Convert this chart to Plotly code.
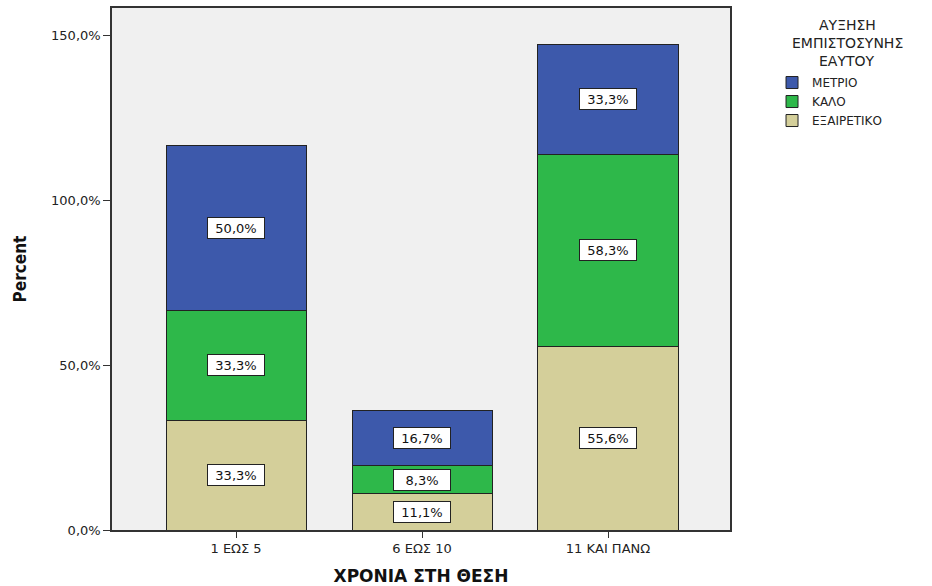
import plotly.graph_objects as go

categories = ["1 ΕΩΣ 5", "6 ΕΩΣ 10", "11 ΚΑΙ ΠΑΝΩ"]
excellent = [33.3, 11.1, 55.6]   # ΕΞΑΙΡΕΤΙΚΟ
good = [33.3, 8.3, 58.3]         # ΚΑΛΟ
moderate = [50.0, 16.7, 33.3]    # ΜΕΤΡΙΟ
series_names = ["ΕΞΑΙΡΕΤΙΚΟ", "ΚΑΛΟ", "ΜΕΤΡΙΟ"]
series_colors = ["#d4cf9a", "#2eb84a", "#3d59ab"]
y_ticks = [0, 50, 100, 150]
legend_title_lines = ["ΑΥΞΗΣΗ", "ΕΜΠΙΣΤΟΣΥΝΗΣ", "ΕΑΥΤΟΥ"]

FONT = "DejaVu Sans, Liberation Sans, sans-serif"
xpos = list(range(len(categories)))
fig = go.Figure()
series = [excellent, good, moderate]
for name, vals, col in zip(series_names, series, series_colors):
    fig.add_trace(go.Bar(
        x=xpos, y=vals, name=name, width=0.753,
        marker=dict(color=col, line=dict(color="#222222", width=1)),
    ))

# labels at segment centers
base = [0.0] * len(categories)
for vals in series:
    for i, v in enumerate(vals):
        fig.add_annotation(
            x=xpos[i], y=base[i] + v / 2,
            text=f"{v:.1f}%".replace(".", ","),
            showarrow=False, bgcolor="white", bordercolor="#222222",
            borderwidth=1, borderpad=2, width=52, height=16,
            font=dict(family=FONT, size=13, color="#111111"),
        )
        base[i] += v

for k, line in enumerate(legend_title_lines):
    fig.add_annotation(
        xref="paper", yref="paper", x=1.19, y=0.9674 - k * 0.0345,
        xanchor="center", yanchor="middle",
        text=line, showarrow=False,
        font=dict(family=FONT, size=14, color="#222222"),
    )

fig.update_layout(
    barmode="stack",
    width=932, height=586,
    margin=dict(l=112, r=202, t=8, b=56),
    paper_bgcolor="white", plot_bgcolor="#f0f0f0",
    font=dict(family=FONT, size=12, color="#222222"),
    showlegend=True,
    legend=dict(
        x=1.068, y=0.885, xanchor="left", yanchor="top",
        traceorder="reversed", font=dict(family=FONT, size=12, color="#222222"),
        itemwidth=30, tracegroupgap=0, bgcolor="rgba(0,0,0,0)",
    ),
    xaxis=dict(
        range=[-0.667, 2.656], tickvals=xpos, ticktext=categories,
        ticks="outside", ticklen=6, tickcolor="#333333", showgrid=False,
        showline=True, linecolor="#333333", mirror=True, linewidth=1.5,
        tickfont=dict(family=FONT, size=13, color="#222222"),
        title=dict(text="<b>ΧΡΟΝΙΑ ΣΤΗ ΘΕΣΗ</b>", font=dict(family=FONT, size=17, color="#111111"), standoff=15),
        zeroline=False, automargin=False,
    ),
    yaxis=dict(
        range=[0, 158.2], tickvals=y_ticks,
        ticktext=[f"{t:.1f}%".replace(".", ",") for t in y_ticks],
        ticks="outside", ticklen=7, tickcolor="#333333", showgrid=False,
        showline=True, linecolor="#333333", mirror=True, linewidth=1.5,
        tickfont=dict(family=FONT, size=13, color="#222222"),
        title=dict(text="<b>Percent</b>", font=dict(family="DejaVu Sans Condensed, " + FONT, size=17, color="#111111"), standoff=20),
        zeroline=False, automargin=False,
    ),
)

fig.write_html(
    "out.html",
    config={"displayModeBar": False},
    post_script="document.body.style.margin='0';document.body.style.overflow='hidden';",
)
